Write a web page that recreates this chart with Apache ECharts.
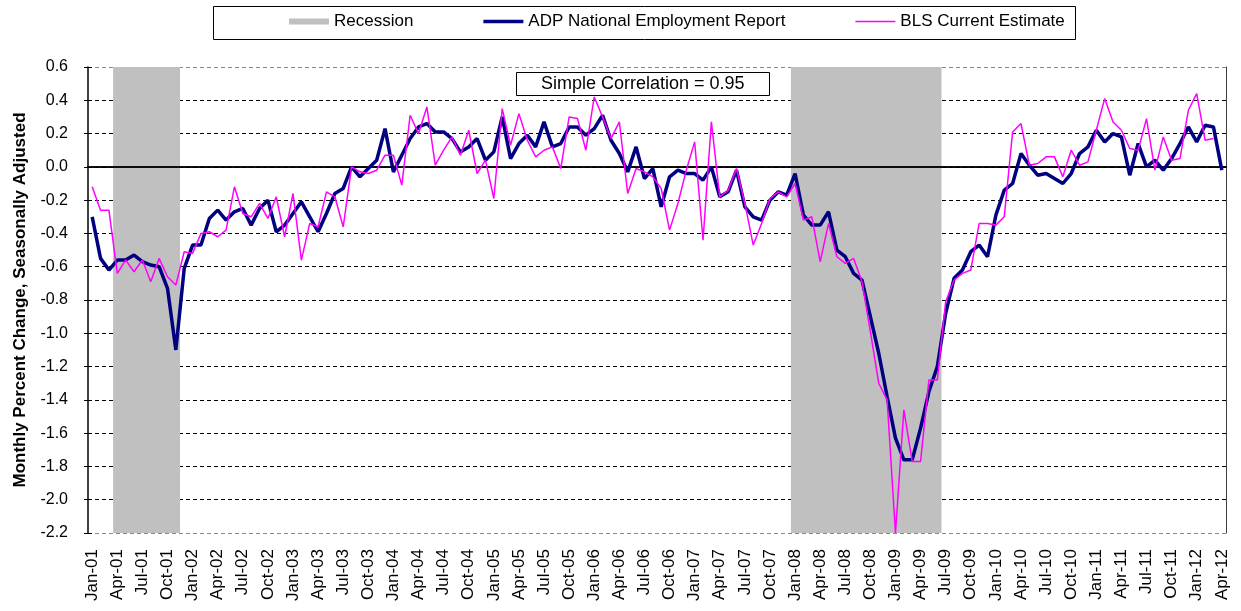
<!DOCTYPE html>
<html>
<head>
<meta charset="utf-8">
<script src="https://cdn.jsdelivr.net/npm/echarts@6/dist/echarts.min.js"></script>
<style>
html, body { margin: 0; padding: 0; background: #fff; }
#chart { width: 1241px; height: 611px; }
</style>
</head>
<body>
<div id="chart"></div>
<script>
// 月份标签 Jan-01 .. Apr-12
var monthNames = ['Jan','Feb','Mar','Apr','May','Jun','Jul','Aug','Sep','Oct','Nov','Dec'];
var months = [];
for (var y = 2001; y <= 2012; y++) {
	for (var m = 0; m < 12; m++) {
		if (y === 2012 && m > 3) break;
		months.push(monthNames[m] + '-' + String(y).slice(2));
	}
}

// 衰退期 (first month, last month)
var recessions = [['Apr-01', 'Nov-01'], ['Jan-08', 'Jun-09']];

// ADP National Employment Report, monthly % change
var adp = [
	-0.30, -0.55, -0.62, -0.56, -0.56, -0.53, -0.57, -0.59, -0.60, -0.73, -1.10, -0.61,
	-0.47, -0.47, -0.31, -0.26, -0.32, -0.27, -0.25, -0.35, -0.25, -0.20, -0.39, -0.35,
	-0.28, -0.21, -0.30, -0.39, -0.28, -0.16, -0.13, 0.00, -0.06, -0.01, 0.04, 0.23,
	-0.03, 0.07, 0.17, 0.24, 0.26, 0.21, 0.21, 0.17, 0.09, 0.12, 0.17, 0.04,
	0.09, 0.30, 0.05, 0.14, 0.19, 0.12, 0.27, 0.12, 0.14, 0.24, 0.24, 0.19,
	0.23, 0.31, 0.16, 0.08, -0.03, 0.12, -0.07, -0.01, -0.24, -0.06, -0.02, -0.04,
	-0.04, -0.08, 0.00, -0.18, -0.15, -0.02, -0.24, -0.30, -0.32, -0.20, -0.15, -0.17,
	-0.04, -0.29, -0.35, -0.35, -0.27, -0.50, -0.54, -0.64, -0.68, -0.90, -1.12, -1.38,
	-1.63, -1.76, -1.76, -1.57, -1.35, -1.20, -0.88, -0.67, -0.62, -0.51, -0.47, -0.54,
	-0.29, -0.14, -0.10, 0.08, 0.01, -0.05, -0.04, -0.07, -0.10, -0.04, 0.08, 0.12,
	0.22, 0.15, 0.20, 0.18, -0.05, 0.14, 0.00, 0.04, -0.02, 0.05, 0.14, 0.24,
	0.15, 0.25, 0.24, -0.02
];

// BLS Current Estimate, monthly % change (no value yet for Apr-12)
var bls = [
	-0.12, -0.26, -0.26, -0.64, -0.56, -0.63, -0.56, -0.69, -0.55, -0.66, -0.71, -0.51,
	-0.52, -0.40, -0.39, -0.42, -0.38, -0.12, -0.28, -0.30, -0.22, -0.31, -0.18, -0.42,
	-0.16, -0.56, -0.34, -0.36, -0.15, -0.18, -0.36, 0.00, -0.03, -0.04, -0.02, 0.07,
	0.07, -0.11, 0.31, 0.20, 0.36, 0.01, 0.10, 0.18, 0.07, 0.22, -0.04, 0.04,
	-0.19, 0.35, 0.13, 0.32, 0.16, 0.06, 0.10, 0.12, -0.01, 0.30, 0.29, 0.10,
	0.42, 0.30, 0.17, 0.27, -0.16, -0.01, -0.03, -0.06, -0.13, -0.38, -0.22, -0.02,
	0.15, -0.44, 0.27, -0.18, -0.14, -0.01, -0.22, -0.47, -0.34, -0.19, -0.15, -0.18,
	-0.10, -0.32, -0.30, -0.57, -0.34, -0.54, -0.58, -0.55, -0.69, -0.99, -1.30, -1.40,
	-2.20, -1.46, -1.77, -1.77, -1.28, -1.28, -0.81, -0.68, -0.64, -0.62, -0.34, -0.34,
	-0.35, -0.30, 0.21, 0.26, 0.01, 0.02, 0.06, 0.06, -0.06, 0.10, 0.01, 0.03,
	0.22, 0.41, 0.27, 0.22, 0.11, 0.10, 0.29, -0.02, 0.18, 0.04, 0.05, 0.34,
	0.44, 0.16, 0.17, null
];

var yMin = -2.2, yMax = 0.6, yStep = 0.2;
var correlationText = 'Simple Correlation = 0.95';

// 衰退期区间 -> [start index, end index]
var recData = recessions.map(function(r) {
	return [months.indexOf(r[0]), months.indexOf(r[1])];
});

var font = 'Liberation Sans, Arial, sans-serif';
var gridLineColors = [];
for (var k = 0; k <= Math.round((yMax - yMin) / yStep); k++) gridLineColors.push('#000');
gridLineColors[0] = '#888';
gridLineColors[gridLineColors.length - 1] = '#888';

var chart = echarts.init(document.getElementById('chart'));
var option = {
	animation: false,
	backgroundColor: '#fff',
	textStyle: { fontFamily: font },
	grid: { left: 88, right: 15, top: 67, bottom: 78 },
	graphic: [{
		type: 'rect',
		left: 213, top: 6,
		shape: { width: 862, height: 33 },
		style: { fill: '#fff', stroke: '#000', lineWidth: 1 },
		z: 0
	}],
	title: {
		text: correlationText,
		left: 516, top: 72,
		padding: [3, 25, 3, 25],
		borderColor: '#000', borderWidth: 1,
		backgroundColor: '#fff',
		textStyle: { fontSize: 18, fontWeight: 'normal', color: '#000', fontFamily: font }
	},
	legend: {
		left: 289, top: 13,
		padding: 0,
		itemWidth: 40, itemHeight: 6, itemGap: 70,
		textStyle: { fontSize: 17, color: '#000', fontFamily: font },
		data: [
			{ name: 'Recession', icon: 'rect' },
			{ name: 'ADP National Employment Report', icon: 'path://M0,0H40V3.5H0Z' },
			{ name: 'BLS Current Estimate', icon: 'path://M0,0H40V1.5H0Z' }
		]
	},
	xAxis: [{
		// 底部标签
		type: 'category', data: months, position: 'bottom',
		axisLine: { show: false, onZero: false },
		axisTick: { show: false },
		axisLabel: { interval: 2, rotate: 90, margin: 16, fontSize: 17, color: '#000', fontFamily: font },
		splitLine: { show: false }
	}, {
		// 零线 (ticks up)
		type: 'category', data: months, position: 'top',
		axisLine: { onZero: true, onZeroAxisIndex: 0, lineStyle: { color: '#000', width: 1.5 } },
		axisTick: { interval: 0, length: 4, lineStyle: { color: '#000' } },
		axisLabel: { show: false },
		splitLine: { show: false },
		z: 5
	}, {
		// 零线 (ticks down)
		type: 'category', data: months, position: 'bottom',
		axisLine: { onZero: true, onZeroAxisIndex: 1, lineStyle: { color: '#000', width: 1.5 } },
		axisTick: { interval: 0, length: 4, lineStyle: { color: '#000' } },
		axisLabel: { show: false },
		splitLine: { show: false },
		z: 5
	}],
	yAxis: [{
		type: 'value', min: yMin, max: yMax, interval: yStep, position: 'left',
		name: 'Monthly Percent Change, Seasonally Adjusted',
		nameLocation: 'middle', nameGap: 59,
		nameTextStyle: { fontSize: 17, fontWeight: 'bold', color: '#000', fontFamily: font },
		axisLine: { show: true, onZero: false, lineStyle: { color: '#000', width: 1.5 } },
		axisTick: { show: true, length: 4, lineStyle: { color: '#000' } },
		axisLabel: {
			margin: 20, fontSize: 16, color: '#000', fontFamily: font,
			formatter: function(v) { return v.toFixed(1); }
		},
		splitLine: { show: true, lineStyle: { color: gridLineColors, type: [4, 3], width: 1 } }
	}, {
		// 右边框
		type: 'value', min: yMin, max: yMax, interval: yStep, position: 'right',
		axisLine: { show: true, onZero: false, lineStyle: { color: '#404040', width: 1 } },
		axisTick: { show: false },
		axisLabel: { show: false },
		splitLine: { show: false }
	}, {
		// y ticks inward
		type: 'value', min: yMin, max: yMax, interval: yStep, position: 'left',
		axisLine: { show: false, onZero: false },
		axisTick: { show: true, inside: true, length: 4, lineStyle: { color: '#000' } },
		axisLabel: { show: false },
		splitLine: { show: false },
		z: 5
	}],
	series: [{
		name: 'Recession', type: 'custom',
		xAxisIndex: 0, yAxisIndex: 0,
		data: recData,
		encode: { x: [0, 1] },
		itemStyle: { color: '#C0C0C0' },
		silent: true, z: 1,
		renderItem: function(params, api) {
			var band = api.size([1, 0])[0];
			var p0 = api.coord([api.value(0), yMax]);
			var p1 = api.coord([api.value(1), yMin]);
			return {
				type: 'rect',
				shape: {
					x: p0[0] - band / 2,
					y: p0[1],
					width: p1[0] - p0[0] + band,
					height: p1[1] - p0[1]
				},
				style: api.style()
			};
		}
	}, {
		name: 'ADP National Employment Report', type: 'line',
		xAxisIndex: 0, yAxisIndex: 0,
		data: adp,
		symbol: 'none',
		lineStyle: { color: '#000080', width: 3.5 },
		itemStyle: { color: '#000080' },
		z: 6
	}, {
		name: 'BLS Current Estimate', type: 'line',
		xAxisIndex: 0, yAxisIndex: 0,
		data: bls,
		symbol: 'none',
		lineStyle: { color: '#FF00FF', width: 1.5 },
		itemStyle: { color: '#FF00FF' },
		z: 7
	}]
};
chart.setOption(option);
</script>
</body>
</html>
